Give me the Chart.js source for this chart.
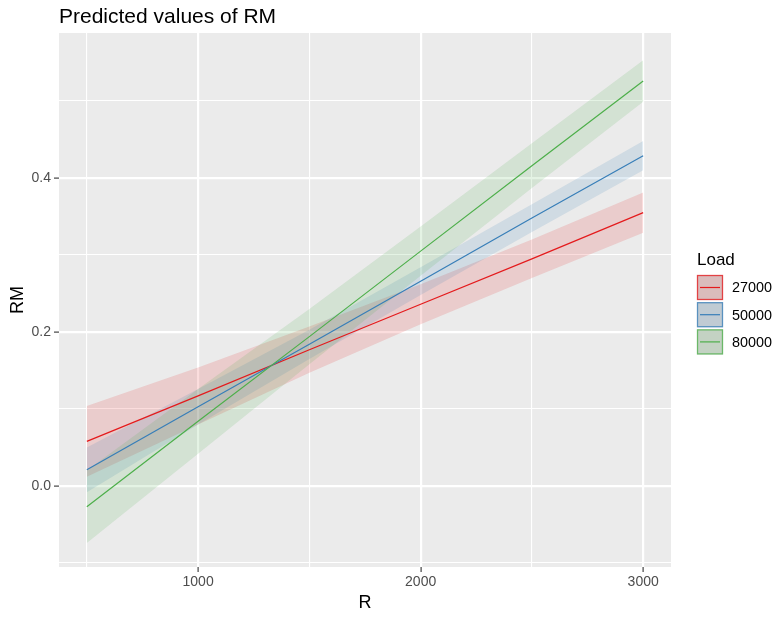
<!DOCTYPE html>
<html><head><meta charset="utf-8">
<script src="https://cdn.jsdelivr.net/npm/chart.js@4.4.1/dist/chart.umd.min.js"></script>
<style>html,body{margin:0;padding:0;background:#fff}canvas{display:block}</style>
</head><body>
<canvas id="c" width="778" height="617"></canvas>
<script>
// ---- data ----
const chartTitle = 'Predicted values of RM';
const xAxisTitle = 'R';
const yAxisTitle = 'RM';
const legendTitle = 'Load';
const groups = ['27000', '50000', '80000'];
const rValues = [500, 1000, 1500, 2000, 2500, 3000];

const pred27000  = [0.058, 0.117, 0.177, 0.236, 0.295, 0.355];
const upper27000 = [0.104, 0.154, 0.207, 0.262, 0.320, 0.381];
const lower27000 = [0.012, 0.080, 0.147, 0.210, 0.270, 0.329];

const pred50000  = [0.021, 0.103, 0.184, 0.266, 0.348, 0.429];
const upper50000 = [0.050, 0.126, 0.203, 0.284, 0.366, 0.448];
const lower50000 = [-0.008, 0.080, 0.165, 0.248, 0.330, 0.410];

const pred80000  = [-0.027, 0.084, 0.194, 0.305, 0.416, 0.526];
const upper80000 = [0.020, 0.126, 0.230, 0.337, 0.445, 0.553];
const lower80000 = [-0.074, 0.042, 0.158, 0.273, 0.387, 0.499];

const xTicks = [500, 1000, 1500, 2000, 2500, 3000];
const xMajorTicks = [1000, 2000, 3000];
const yTicks = [-0.1, 0.0, 0.1, 0.2, 0.3, 0.4, 0.5];
const yMajorTicks = [0.0, 0.2, 0.4];

// ---- styling ----
const colors = ['#E41A1C', '#377EB8', '#4DAF4A'];
const ribbonAlpha = 0.15;
const FONT = '"Liberation Sans", Arial, sans-serif';

function rgba(hex, a) {
  const n = parseInt(hex.slice(1), 16);
  return `rgba(${(n >> 16) & 255},${(n >> 8) & 255},${n & 255},${a})`;
}
const pts = (ys) => rValues.map((x, i) => ({ x, y: ys[i] }));
const preds = [pred27000, pred50000, pred80000];
const uppers = [upper27000, upper50000, upper80000];
const lowers = [lower27000, lower50000, lower80000];

const datasets = [];
// lines: indices 0..2
groups.forEach((g, i) => {
  datasets.push({
    label: g, data: pts(preds[i]), borderColor: colors[i], borderWidth: 1.2,
    pointRadius: 0, fill: false, tension: 0, order: 3 - i
  });
});
// ribbons: upper at 3+2i, lower at 4+2i
groups.forEach((g, i) => {
  const loIdx = 4 + 2 * i;
  datasets.push({
    label: g + ' upper', data: pts(uppers[i]), borderColor: 'rgba(0,0,0,0)', borderWidth: 0,
    pointRadius: 0, backgroundColor: rgba(colors[i], ribbonAlpha), fill: loIdx, tension: 0, order: 6 - i
  });
  datasets.push({
    label: g + ' lower', data: pts(lowers[i]), borderColor: 'rgba(0,0,0,0)', borderWidth: 0,
    pointRadius: 0, fill: false, tension: 0, order: 6 - i
  });
});

const isMajor = (list, v) => list.some(m => Math.abs(m - v) < 1e-9);

const decor = {
  id: 'decor',
  beforeDraw(chart) {
    const { ctx, chartArea: a } = chart;
    ctx.save();
    ctx.fillStyle = '#FFFFFF';
    ctx.fillRect(0, 0, chart.width, chart.height);
    ctx.fillStyle = '#EBEBEB';
    ctx.fillRect(a.left, a.top, a.right - a.left, a.bottom - a.top);
    ctx.restore();
  },
  afterDraw(chart) {
    const { ctx, chartArea: a } = chart;
    ctx.save();
    // title
    ctx.fillStyle = '#000000';
    ctx.font = `21px ${FONT}`;
    ctx.textAlign = 'left';
    ctx.textBaseline = 'alphabetic';
    ctx.fillText(chartTitle, a.left, 22.5);
    // legend
    const lx = 697, ly0 = 275, kw = 26, kh = 25, step = 27.2;
    ctx.font = `17px ${FONT}`;
    ctx.fillText(legendTitle, lx, 265);
    ctx.font = `14.4px ${FONT}`;
    groups.forEach((g, i) => {
      const y = ly0 + i * step;
      ctx.fillStyle = '#D9D9D9';
      ctx.fillRect(lx, y, kw, kh);
      ctx.fillStyle = rgba(colors[i], ribbonAlpha);
      ctx.fillRect(lx, y, kw, kh);
      ctx.strokeStyle = rgba(colors[i], 0.75);
      ctx.lineWidth = 1.3;
      ctx.strokeRect(lx + 0.5, y + 0.5, kw - 1, kh - 1);
      ctx.strokeStyle = colors[i];
      ctx.lineWidth = 1.2;
      ctx.beginPath();
      ctx.moveTo(lx + 3, y + kh / 2);
      ctx.lineTo(lx + kw - 3, y + kh / 2);
      ctx.stroke();
      ctx.fillStyle = '#000000';
      ctx.textBaseline = 'middle';
      ctx.fillText(g, lx + 35, y + kh / 2 + 1);
      ctx.textBaseline = 'alphabetic';
    });
    ctx.restore();
  }
};

new Chart(document.getElementById('c'), {
  type: 'line',
  data: { datasets },
  plugins: [decor],
  options: {
    responsive: false,
    animation: false,
    devicePixelRatio: 1,
    layout: { padding: { left: 0, top: 33, right: 107, bottom: 0 } },
    plugins: { legend: { display: false }, tooltip: { enabled: false }, title: { display: false } },
    elements: { line: { borderCapStyle: 'butt' } },
    scales: {
      x: {
        type: 'linear', min: 375, max: 3125,
        afterBuildTicks: (s) => { s.ticks = xTicks.map(v => ({ value: v })); },
        afterFit: (s) => { s.height = 50; },
        border: { display: false },
        grid: {
          color: '#FFFFFF',
          lineWidth: (c) => (c.tick && isMajor(xMajorTicks, c.tick.value)) ? 2.2 : 1.1,
          tickColor: (c) => (c.tick && isMajor(xMajorTicks, c.tick.value)) ? '#333333' : 'rgba(0,0,0,0)',
          tickLength: 5, tickWidth: 1.1, drawTicks: true
        },
        ticks: {
          autoSkip: false, maxRotation: 0, padding: 2, color: '#4D4D4D',
          font: { family: FONT, size: 14 },
          callback: (v) => isMajor(xMajorTicks, v) ? String(v) : ''
        },
        title: { display: true, text: xAxisTitle, color: '#000000', font: { family: FONT, size: 18 }, padding: { top: 0, bottom: 3.5 } }
      },
      y: {
        type: 'linear', min: -0.1052, max: 0.5883,
        afterBuildTicks: (s) => { s.ticks = yTicks.map(v => ({ value: v })); },
        afterFit: (s) => { s.width = 59; },
        border: { display: false },
        grid: {
          color: '#FFFFFF',
          lineWidth: (c) => (c.tick && isMajor(yMajorTicks, c.tick.value)) ? 2.2 : 1.1,
          tickColor: (c) => (c.tick && isMajor(yMajorTicks, c.tick.value)) ? '#333333' : 'rgba(0,0,0,0)',
          tickLength: 5, tickWidth: 1.1, drawTicks: true
        },
        ticks: {
          autoSkip: false, padding: 3, color: '#4D4D4D',
          font: { family: FONT, size: 14 },
          callback: (v) => isMajor(yMajorTicks, v) ? Number(v).toFixed(1) : ''
        },
        title: { display: true, text: yAxisTitle, color: '#000000', font: { family: FONT, size: 18 }, padding: { top: 7.5, bottom: 0 } }
      }
    }
  }
});
</script>
</body></html>
